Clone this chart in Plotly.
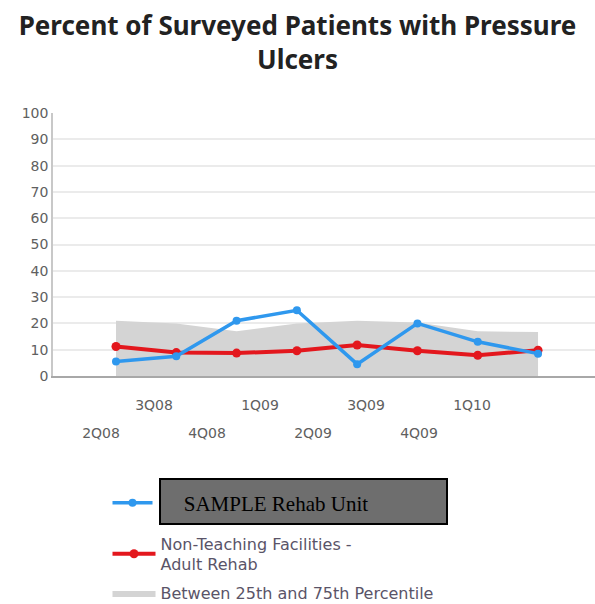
import plotly.graph_objects as go

quarters = ["2Q08", "3Q08", "4Q08", "1Q09", "2Q09", "3Q09", "4Q09", "1Q10"]
sample_unit = [5.5, 7.5, 21, 25, 4.5, 20, 13, 8.5]
non_teaching = [11.2, 8.9, 8.7, 9.6, 11.8, 9.6, 7.9, 9.8]
p25 = [0, 0, 0, 0, 0, 0, 0, 0]
p75 = [21, 20, 17, 20, 21, 20.3, 17, 16.7]
y_ticks = list(range(0, 101, 10))

idx = list(range(len(quarters)))
top_row = [i for i in idx if i % 2 == 1]
bottom_row = [i for i in idx if i % 2 == 0]

TICK_FONT = dict(family="DejaVu Sans", size=14, color="#606060")
LEG_FONT = dict(family="DejaVu Sans", size=16, color="#5a5468")

fig = go.Figure()
fig.add_trace(go.Scatter(x=quarters, y=p25, mode="lines", line=dict(width=0),
                         showlegend=False, hoverinfo="skip"))
fig.add_trace(go.Scatter(x=quarters, y=p75, mode="lines", line=dict(width=0, color="#d4d4d4"),
                         fill="tonexty", fillcolor="#d4d4d4",
                         name="Between 25th and 75th Percentile", legend="legend3"))
fig.add_trace(go.Scatter(x=quarters, y=non_teaching, mode="lines+markers",
                         line=dict(color="#e3171d", width=4),
                         marker=dict(color="#e3171d", size=9),
                         name="Non-Teaching Facilities -<br>Adult Rehab", legend="legend2"))
fig.add_trace(go.Scatter(x=quarters, y=sample_unit, mode="lines+markers",
                         line=dict(color="#2f98ee", width=3.5),
                         marker=dict(color="#2f98ee", size=8),
                         name="&nbsp;&nbsp;&nbsp;&nbsp;&nbsp;SAMPLE Rehab Unit", legend="legend"))
# invisible carriers for the two rows of quarter labels
fig.add_trace(go.Scatter(x=top_row, y=[None] * len(top_row), xaxis="x2", mode="markers",
                         showlegend=False, hoverinfo="skip"))
fig.add_trace(go.Scatter(x=bottom_row, y=[None] * len(bottom_row), xaxis="x3", mode="markers",
                         showlegend=False, hoverinfo="skip"))

L, R, T, B = 53, 0, 113, 228
W = 595 - L - R

def cx(px):
    return px / 595

def cy(py):
    return 1 - py / 604

def px_to_paper_x(px):
    return (px - L) / W

def px_to_paper_y(py):
    return (604 - B - py) / (604 - T - B)

leg_common = dict(xref="container", yref="container", xanchor="left", yanchor="middle",
                  bgcolor="rgba(0,0,0,0)")

fig.update_layout(
    width=595, height=604,
    margin=dict(l=L, r=R, t=T, b=B, autoexpand=False),
    paper_bgcolor="white", plot_bgcolor="white",
    title=dict(text="Percent of Surveyed Patients with Pressure<br>Ulcers",
               font=dict(family="Noto Sans", size=26, color="#222222", weight="bold"),
               x=0.5, xref="container", xanchor="center",
               y=1 - 35 / 604, yref="container", yanchor="top"),
    xaxis=dict(type="category", range=[-1.045, 7.945], showticklabels=False,
               showgrid=False, showline=True, linecolor="#a8a8a8", linewidth=2,
               zeroline=False, ticks=""),
    xaxis2=dict(overlaying="x", anchor="y", side="bottom", range=[-0.906, 9.32],
                tickvals=top_row, ticktext=[quarters[i] for i in top_row],
                showgrid=False, zeroline=False, showline=False, tickangle=0,
                ticks="outside", ticklen=16, tickcolor="rgba(0,0,0,0)",
                tickfont=TICK_FONT),
    xaxis3=dict(overlaying="x", anchor="y", side="bottom", range=[-0.906, 9.32],
                tickvals=bottom_row, ticktext=[quarters[i] for i in bottom_row],
                showgrid=False, zeroline=False, showline=False, tickangle=0,
                ticks="outside", ticklen=44, tickcolor="rgba(0,0,0,0)",
                tickfont=TICK_FONT),
    yaxis=dict(range=[0, 100], tickvals=y_ticks, showgrid=True, gridcolor="#ebebeb",
               gridwidth=2, showline=True, linecolor="#c8c8c8", linewidth=1.5,
               zeroline=False, ticks="", tickfont=TICK_FONT),
    legend=dict(x=cx(107.5), y=cy(503), itemwidth=40, **leg_common,
                font=dict(family="Liberation Serif", size=21, color="#000000")),
    legend2=dict(x=cx(107.5), y=cy(554), itemwidth=43, **leg_common, font=LEG_FONT),
    legend3=dict(x=cx(107.5), y=cy(593), itemwidth=43, **leg_common, font=LEG_FONT),
    shapes=[dict(type="rect", xref="paper", yref="paper",
                 x0=px_to_paper_x(160), x1=px_to_paper_x(447),
                 y0=px_to_paper_y(479), y1=px_to_paper_y(524),
                 fillcolor="#6e6e6e", line=dict(color="#000000", width=2), layer="above")],
    showlegend=True,
)

fig.write_html("out.html", config={"displayModeBar": False},
               post_script="document.body.style.margin='0';document.body.style.overflow='hidden';")
